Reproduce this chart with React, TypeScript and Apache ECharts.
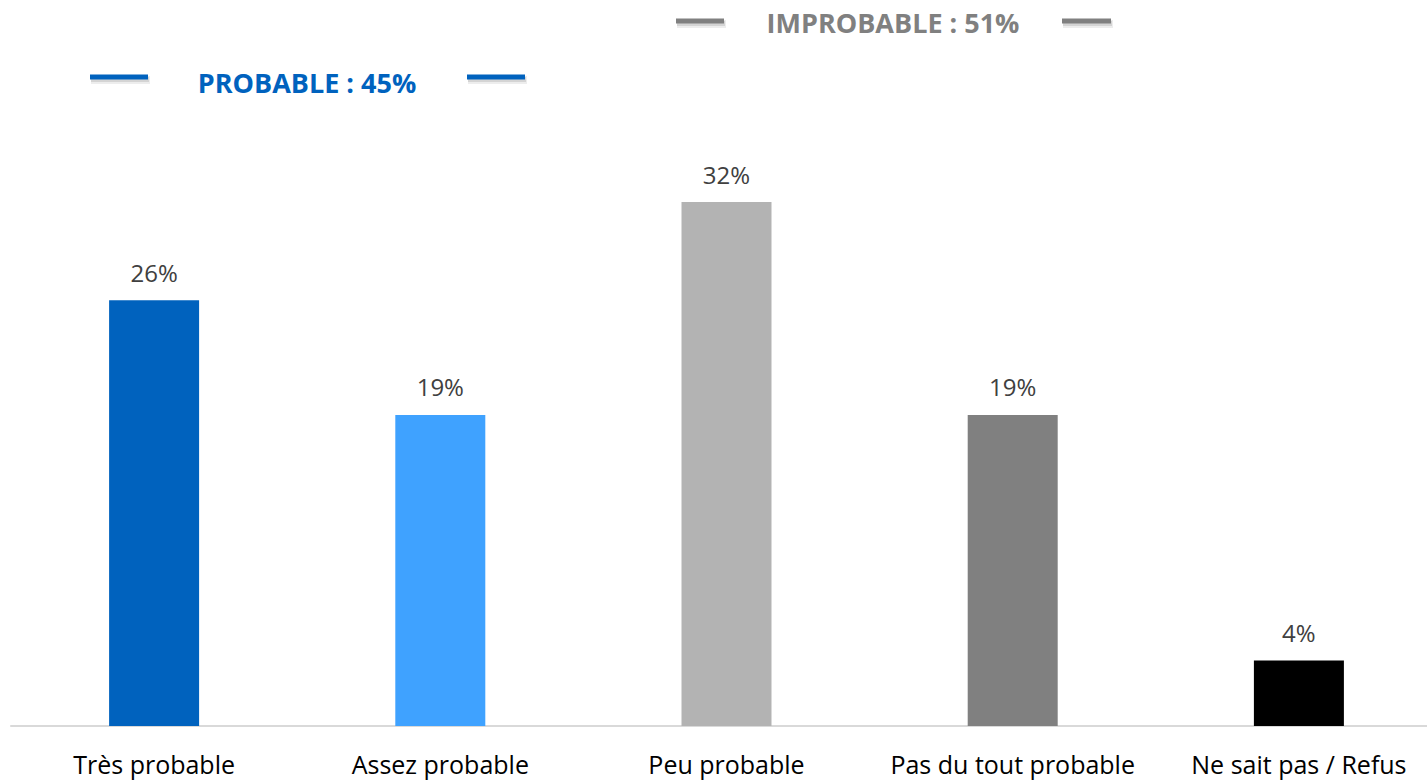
import React, { useEffect, useRef } from "react";
import * as echarts from "echarts";

const categories = ["Très probable", "Assez probable", "Peu probable", "Pas du tout probable", "Ne sait pas / Refus"];
const values = [26, 19, 32, 19, 4];
const barColors = ["#0062BE", "#3FA2FF", "#B3B3B3", "#808080", "#000000"];
const groupLabels = ["PROBABLE : 45%", "IMPROBABLE : 51%"];

export default function App() {
  const ref = useRef<HTMLDivElement>(null);
  useEffect(() => {
    if (!ref.current) return;
    const chart = echarts.init(ref.current, null, { renderer: "svg" });
    const font = "'Open Sans', 'Liberation Sans', sans-serif";
    const legendLine = (x1: number, x2: number, y: number, color: string) => [
      { type: "rect", shape: { x: x1 + 1, y: y - 1, width: x2 - x1 + 1, height: 8 }, style: { fill: "rgba(0,0,0,0.07)" }, z: 1 },
      { type: "rect", shape: { x: x1 + 1, y: y, width: x2 - x1, height: 5 }, style: { fill: "rgba(0,0,0,0.10)" }, z: 1 },
      { type: "rect", shape: { x: x1, y: y - 2.5, width: x2 - x1, height: 5 }, style: { fill: color }, z: 2 },
    ];
    chart.setOption({
      animation: false,
      backgroundColor: "#ffffff",
      grid: { left: 11, right: 0, top: 0, bottom: 56, containLabel: false },
      xAxis: {
        type: "category",
        data: categories,
        axisLine: { lineStyle: { color: "#D9D9D9", width: 2 } },
        axisTick: { show: false },
        axisLabel: { color: "#000000", fontSize: 25, fontFamily: font, margin: 25, interval: 0 },
      },
      yAxis: {
        type: "value",
        min: 0,
        max: 44.34,
        show: false,
        splitLine: { show: false },
      },
      series: [
        {
          type: "bar",
          barWidth: 90,
          data: values.map((v, i) => ({ value: v, itemStyle: { color: barColors[i] } })),
          label: {
            show: true,
            position: "top",
            distance: 16,
            formatter: "{c}%",
            color: "#404040",
            fontSize: 24,
            fontFamily: font,
          },
        },
      ],
      graphic: [
        ...legendLine(676, 724, 21, "#808080"),
        ...legendLine(1062, 1111, 21, "#808080"),
        {
          type: "text",
          x: 893,
          y: 22,
          style: {
            text: groupLabels[1],
            fill: "#808080",
            font: `bold 27px ${font}`,
            align: "center",
            verticalAlign: "middle",
          },
        },
        ...legendLine(90, 148, 77, "#0062BE"),
        ...legendLine(467, 525, 77, "#0062BE"),
        {
          type: "text",
          x: 307,
          y: 82,
          style: {
            text: groupLabels[0],
            fill: "#0062BE",
            font: `bold 27px ${font}`,
            align: "center",
            verticalAlign: "middle",
          },
        },
      ],
    });
    return () => chart.dispose();
  }, []);
  return (
    <div style={{ position: "fixed", left: 0, top: 0, width: 1427, height: 782, overflow: "hidden", background: "#fff" }}>
      <div ref={ref} style={{ width: 1442, height: 782 }} />
    </div>
  );
}
